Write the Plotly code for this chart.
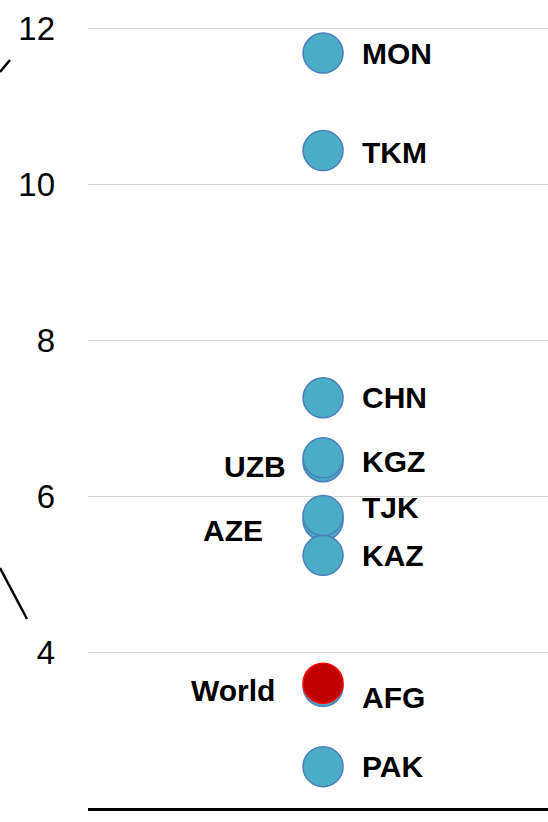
import plotly.graph_objects as go

# ---- data ----
countries = ["PAK", "AFG", "World", "AZE", "KAZ", "TJK", "UZB", "KGZ", "CHN", "TKM", "MON"]
values    = [2.53,  3.56,  3.60,    5.69,  5.24,  5.75,  6.44,  6.49,  7.26,  10.43, 11.68]
label_side = ["right", "right", "left", "left", "right", "right", "left", "right", "right", "right", "right"]
y_ticks = [2, 4, 6, 8, 10, 12]

# label pixel offsets (styling)
label_dx = {"PAK": 37, "AFG": 37, "World": -46, "AZE": -58, "KAZ": 37, "TJK": 37,
            "UZB": -35, "KGZ": 37, "CHN": 37, "TKM": 37, "MON": 37}
label_dy = {"PAK": 0, "AFG": -11, "World": -7, "AZE": -10, "KAZ": 0, "TJK": 8,
            "UZB": -5, "KGZ": -4, "CHN": 0, "TKM": -2, "MON": 0}

W, H = 548, 822
ML, MR, MT, MB = 88, 0, 27, 14

fill = ["#C00000" if c == "World" else "#4BACC6" for c in countries]
edge = ["#FF0000" if c == "World" else "#4A7EBB" for c in countries]

fig = go.Figure()
fig.add_trace(go.Scatter(
    x=[0] * len(countries), y=values, mode="markers",
    marker=dict(size=40, color=fill, line=dict(color=edge, width=1.5)),
    hoverinfo="text", text=countries, showlegend=False, cliponaxis=False,
))

annotations = []
for c, v, side in zip(countries, values, label_side):
    annotations.append(dict(
        x=0, y=v, xref="x", yref="y", text=f"<b>{c}</b>", showarrow=False,
        xanchor="left" if side == "right" else "right", yanchor="middle",
        xshift=label_dx[c], yshift=label_dy[c],
        font=dict(family="Liberation Sans, Arial, sans-serif", size=30, color="black"),
    ))

pw, ph = W - ML - MR, H - MT - MB
def px(x): return (x - ML) / pw
def py(y): return (H - MB - y) / ph

shapes = [
    dict(type="line", xref="paper", yref="paper", x0=px(0), y0=py(72), x1=px(10), y1=py(60),
         line=dict(color="black", width=2.5)),
    dict(type="line", xref="paper", yref="paper", x0=px(0), y0=py(568), x1=px(27), y1=py(619),
         line=dict(color="black", width=2.5)),
]

fig.update_layout(
    width=W, height=H,
    margin=dict(l=ML, r=MR, t=MT, b=MB),
    paper_bgcolor="white", plot_bgcolor="white",
    annotations=annotations, shapes=shapes,
    xaxis=dict(range=[-0.511, 0.489], showgrid=False, zeroline=False, showticklabels=False,
               showline=True, linecolor="black", linewidth=3, fixedrange=True),
    yaxis=dict(range=[2, 12.015], tickvals=y_ticks, ticktext=[str(t) for t in y_ticks],
               showgrid=True, gridcolor="#d4d4d4", gridwidth=1, zeroline=False,
               tickfont=dict(family="Liberation Sans, Arial, sans-serif", size=33, color="black"),
               ticklabelstandoff=32, showline=False, fixedrange=True),
)

fig.write_html("out.html", config={"displayModeBar": False},
               post_script="document.body.style.margin='0';document.body.style.padding='0';")
